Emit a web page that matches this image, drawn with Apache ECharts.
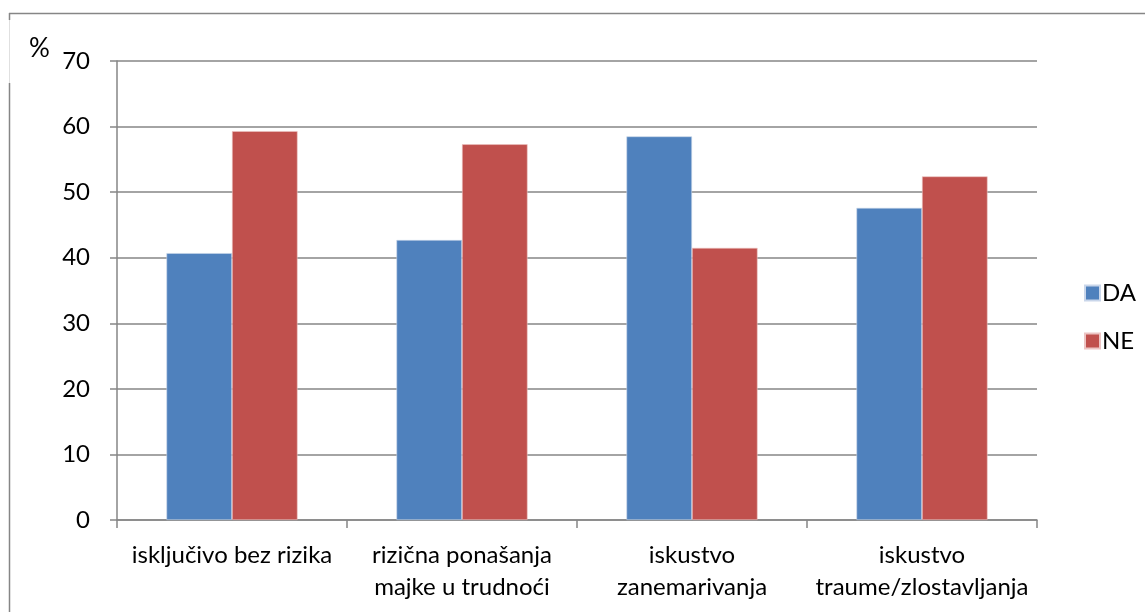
<!DOCTYPE html>
<html><head><meta charset="utf-8">
<script src="https://cdn.jsdelivr.net/npm/echarts@6/dist/echarts.min.js"></script>
<style>html,body{margin:0;padding:0;background:#fff}#c{width:1145px;height:612px}</style>
</head><body><div id="c"></div>
<script>
const categories = ['isključivo bez rizika', 'rizična ponašanja\nmajke u trudnoći', 'iskustvo\nzanemarivanja', 'iskustvo\ntraume/zlostavljanja'];
const seriesNames = ['DA', 'NE'];
const daValues = [40.7, 42.7, 58.5, 47.6];
const neValues = [59.3, 57.3, 41.5, 52.4];
const yTicks = [0, 10, 20, 30, 40, 50, 60, 70];

const font = 'Lato, "Open Sans", "Liberation Sans", sans-serif';
const chart = echarts.init(document.getElementById('c'), null, {renderer: 'canvas'});
chart.setOption({
  animation: false,
  backgroundColor: '#fff',
  grid: {left: 117, right: 108, top: 61, bottom: 92, containLabel: false},
  legend: {
    data: seriesNames, orient: 'vertical', left: 1079, top: 276,
    itemWidth: 15, itemHeight: 15, itemGap: 24, icon: 'rect',
    textStyle: {fontFamily: font, fontSize: 24, color: '#000', padding: [0, 0, 0, -3]}
  },
  xAxis: {
    type: 'category', data: categories,
    axisLine: {lineStyle: {color: '#868686', width: 1.5}},
    axisTick: {show: true, length: 8, lineStyle: {color: '#868686', width: 1.5}},
    axisLabel: {fontFamily: font, fontSize: 24, color: '#000', margin: 19, lineHeight: 32, interval: 0}
  },
  yAxis: {
    type: 'value', min: yTicks[0], max: yTicks[yTicks.length - 1], interval: 10,
    axisLine: {show: true, lineStyle: {color: '#868686', width: 1.5}},
    axisTick: {show: true, length: 7, lineStyle: {color: '#868686', width: 1.5}},
    axisLabel: {fontFamily: font, fontSize: 24, color: '#000', margin: 27},
    splitLine: {lineStyle: {color: '#868686', width: 1.5}}
  },
  series: [
    {name: seriesNames[0], type: 'bar', data: daValues, barGap: '0%', barCategoryGap: '43%',
     itemStyle: {color: '#4f81bd', borderColor: '#c9d6ea', borderWidth: 0.6}},
    {name: seriesNames[1], type: 'bar', data: neValues, barGap: '0%', barCategoryGap: '43%',
     itemStyle: {color: '#c0504d', borderColor: '#ecc4c3', borderWidth: 0.6}}
  ],
  graphic: [
    {type: 'line', shape: {x1: 9, y1: 13.5, x2: 1145, y2: 13.5}, style: {stroke: '#868686', lineWidth: 1.5}, silent: true},
    {type: 'line', shape: {x1: 9.5, y1: 13, x2: 9.5, y2: 20}, style: {stroke: '#868686', lineWidth: 1.5}, silent: true},
    {type: 'line', shape: {x1: 9.5, y1: 20, x2: 9.5, y2: 83}, style: {stroke: '#e0e0e0', lineWidth: 1}, silent: true},
    {type: 'line', shape: {x1: 9.5, y1: 83, x2: 9.5, y2: 612}, style: {stroke: '#868686', lineWidth: 1.5}, silent: true},
    {type: 'text', left: 29, top: 36, style: {text: '%', font: '26px ' + font, fill: '#000'}, silent: true}
  ]
});
</script></body></html>
